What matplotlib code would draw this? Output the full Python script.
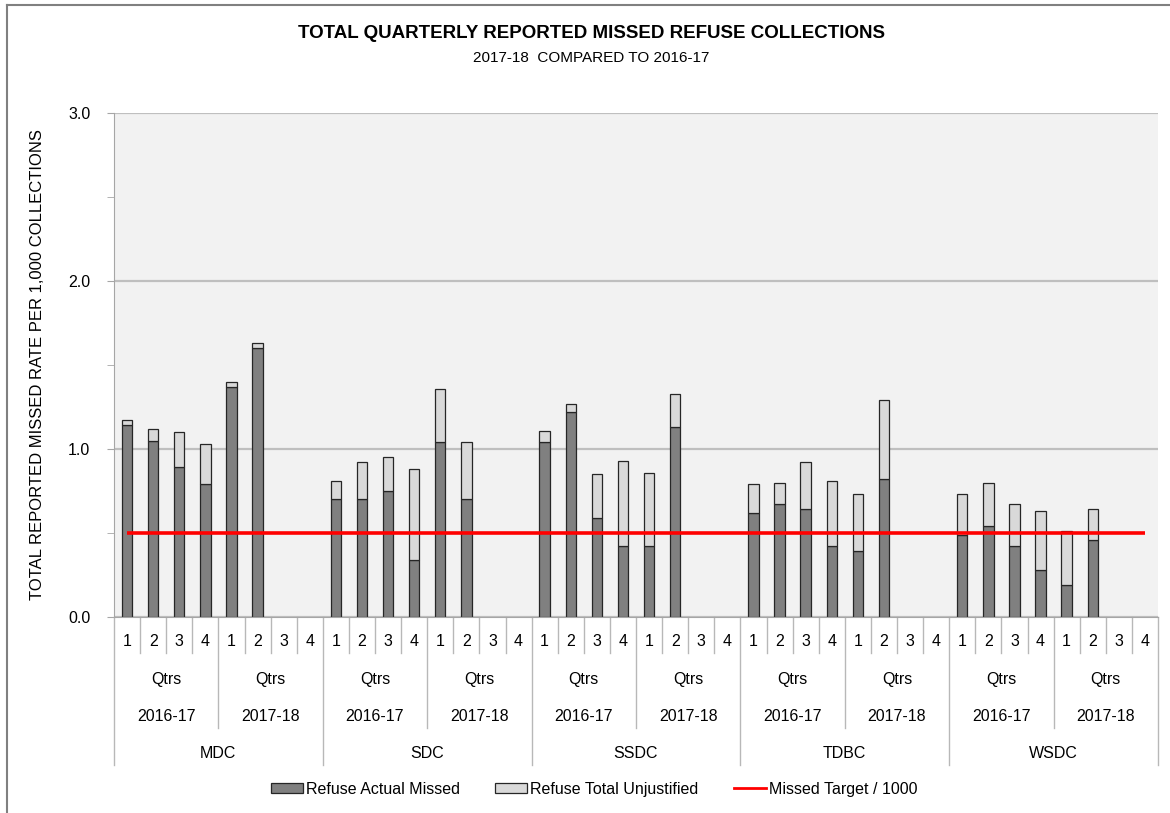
import numpy as np
import matplotlib
matplotlib.use("Agg")
import matplotlib.pyplot as plt
from matplotlib.patches import Patch
from matplotlib.lines import Line2D

plt.rcParams['font.family'] = ['Liberation Sans', 'DejaVu Sans']

# === Données ===
councils = ['MDC', 'SDC', 'SSDC', 'TDBC', 'WSDC']
years = ['2016-17', '2017-18']
quarters = ['1', '2', '3', '4']
nan = np.nan

# valeurs par trimestre, ordre : conseil -> année -> trimestre
actual_missed = [
    1.14, 1.05, 0.89, 0.79, 1.37, 1.60, nan, nan,   # MDC
    0.70, 0.70, 0.75, 0.34, 1.04, 0.70, nan, nan,   # SDC
    1.04, 1.22, 0.59, 0.42, 0.42, 1.13, nan, nan,   # SSDC
    0.62, 0.67, 0.64, 0.42, 0.39, 0.82, nan, nan,   # TDBC
    0.49, 0.54, 0.42, 0.28, 0.19, 0.46, nan, nan,   # WSDC
]
total_unjustified = [
    0.03, 0.07, 0.21, 0.24, 0.03, 0.03, nan, nan,
    0.11, 0.22, 0.20, 0.54, 0.32, 0.34, nan, nan,
    0.07, 0.05, 0.26, 0.51, 0.44, 0.20, nan, nan,
    0.17, 0.13, 0.28, 0.39, 0.34, 0.47, nan, nan,
    0.24, 0.26, 0.25, 0.35, 0.32, 0.18, nan, nan,
]
target = 0.5

actual = np.array(actual_missed)
unjust = np.array(total_unjustified)
n = len(actual)
x = np.arange(n) + 0.5
ok = np.isfinite(actual)

W, H = 1170, 813
fs = 11.5
fig = plt.figure(figsize=(W / 100, H / 100), dpi=100)
ax = fig.add_axes([114 / W, (H - 617) / H, (1158 - 114) / W, (617 - 113) / H])
ax.set_facecolor('#f2f2f2')

dark = '#808080'
light = '#d9d9d9'
edge = '#262626'
sep = '#b8b8b8'

ax.bar(x[ok], actual[ok], width=0.4, color=dark, edgecolor=edge, linewidth=0.9, zorder=2)
ax.bar(x[ok], unjust[ok], bottom=actual[ok], width=0.4, color=light, edgecolor=edge,
       linewidth=0.9, zorder=2)
ax.plot([x[0], x[-1]], [target, target], color='#ff0000', lw=2.6, zorder=3,
        solid_capstyle='butt')

ax.set_xlim(0, n)
ax.set_ylim(0, 3)
ax.set_yticks([0, 1, 2, 3])
ax.set_yticklabels(['0.0', '1.0', '2.0', '3.0'], fontsize=fs)
ax.set_yticks([0.5, 1.5, 2.5], minor=True)
ax.tick_params(axis='y', which='both', length=5, color='#a6a6a6', pad=12)
ax.set_xticks([])
ax.grid(axis='y', which='major', color='#bfbfbf', lw=1.6, zorder=1)
for s in ['top', 'right']:
    ax.spines[s].set_visible(False)
ax.spines['left'].set_color('#a6a6a6')
ax.spines['bottom'].set_color('#a6a6a6')

# === Axe des x hiérarchique ===
tr = ax.get_xaxis_transform()
ah = 617 - 113
def fy(py):
    return (617 - py) / ah

for i in range(n):
    ax.text(x[i], fy(641), quarters[i % 4], transform=tr, ha='center', va='center', fontsize=fs)
for i in range(n + 1):
    if i % 8 == 0:
        y_end = fy(765)
    elif i % 4 == 0:
        y_end = fy(728)
    else:
        y_end = fy(653)
    ax.plot([i, i], [0, y_end], transform=tr, color=sep, lw=1, clip_on=False)
for g in range(n // 4):
    xc = g * 4 + 2
    ax.text(xc, fy(679), 'Qtrs', transform=tr, ha='center', va='center', fontsize=fs)
    ax.text(xc, fy(716), years[g % 2], transform=tr, ha='center', va='center', fontsize=fs)
for c, name in enumerate(councils):
    ax.text(c * 8 + 4, fy(753), name, transform=tr, ha='center', va='center', fontsize=fs)

# === Titres ===
fig.text(591 / W, 1 - 33 / H, 'TOTAL QUARTERLY REPORTED MISSED REFUSE COLLECTIONS',
         ha='center', va='center', fontsize=13.5, fontweight='bold')
fig.text(591 / W, 1 - 58 / H, '2017-18  COMPARED TO 2016-17', ha='center', va='center', fontsize=11)
fig.text(38 / W, 1 - 365 / H, 'TOTAL REPORTED MISSED RATE PER 1,000 COLLECTIONS',
         rotation=90, ha='center', va='center', fontsize=12)

# === Légende ===
handles = [
    Patch(facecolor=dark, edgecolor=edge, lw=0.9),
    Patch(facecolor=light, edgecolor=edge, lw=0.9),
    Line2D([], [], color='#ff0000', lw=2),
]
labels = ['Refuse Actual Missed', 'Refuse Total Unjustified', 'Missed Target / 1000']
fig.legend(handles, labels, loc='center', bbox_to_anchor=(594 / W, 1 - 789 / H), ncol=3,
           frameon=False, fontsize=fs, handlelength=2.0, handleheight=0.6,
           handletextpad=0.2, columnspacing=2.2)

# cadre du graphique
fig.add_artist(Line2D([7 / W, 7 / W], [0, 1 - 5 / H], transform=fig.transFigure, color='#808080', lw=1.5))
fig.add_artist(Line2D([7 / W, 1], [1 - 5 / H, 1 - 5 / H], transform=fig.transFigure, color='#808080', lw=1.5))

fig.savefig('out.png', dpi=100, facecolor='white')
